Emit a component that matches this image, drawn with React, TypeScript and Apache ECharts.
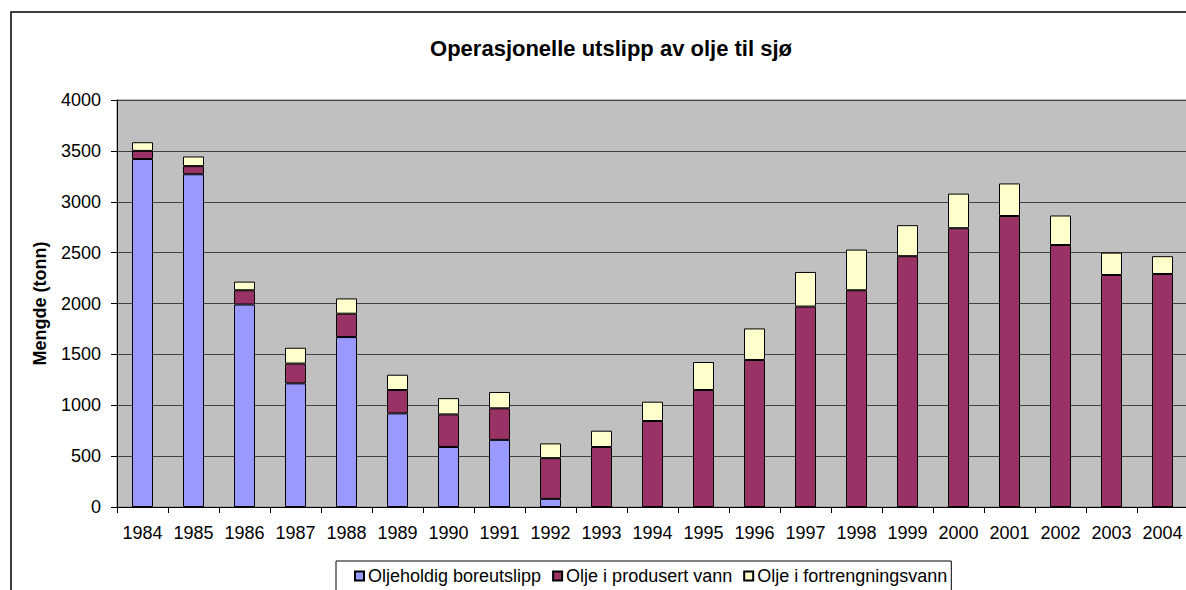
import React, { useEffect, useRef } from "react";
import * as echarts from "echarts";

const years = ["1984","1985","1986","1987","1988","1989","1990","1991","1992","1993","1994","1995","1996","1997","1998","1999","2000","2001","2002","2003","2004"];
const boreutslipp = [3420, 3270, 1990, 1215, 1670, 920, 590, 660, 80, 0, 0, 0, 0, 0, 0, 0, 0, 0, 0, 0, 0];
const produsertVann = [80, 80, 140, 195, 230, 230, 320, 310, 400, 590, 845, 1150, 1445, 1970, 2130, 2465, 2740, 2860, 2575, 2280, 2290];
const fortrengningsvann = [85, 95, 85, 155, 150, 150, 160, 160, 145, 160, 190, 275, 310, 340, 400, 305, 340, 320, 290, 220, 175];
const seriesNames = ["Oljeholdig boreutslipp", "Olje i produsert vann", "Olje i fortrengningsvann"];
const titleText = "Operasjonelle utslipp av olje til sjø";
const yAxisName = "Mengde (tonn)";

const FONT = "'Liberation Sans', Arial, sans-serif";

export default function App() {
  const ref = useRef<HTMLDivElement>(null);
  useEffect(() => {
    if (!ref.current) return;
    const chart = echarts.init(ref.current, undefined, { renderer: "svg" });
    const colors = ["#9999FF", "#993366", "#FFFFCC"];
    const datasets = [boreutslipp, produsertVann, fortrengningsvann];
    chart.setOption({
      animation: false,
      backgroundColor: "#ffffff",
      textStyle: { fontFamily: FONT },
      graphic: [
        {
          type: "rect",
          shape: { x: 11, y: 12, width: 1400, height: 800 },
          style: { fill: "none", stroke: "#000", lineWidth: 1.5 },
          silent: true,
          z: -1,
        },
      ],
      title: {
        text: titleText,
        left: 606,
        textAlign: "center",
        top: 32,
        textStyle: { fontFamily: FONT, fontSize: 22, fontWeight: "bold", color: "#000" },
      },
      legend: {
        left: 336,
        top: 561,
        padding: [6, 4, 6, 18],
        itemGap: 11,
        itemWidth: 9,
        itemHeight: 9,
        icon: "rect",
        backgroundColor: "#fff",
        borderColor: "#000",
        borderWidth: 1,
        borderRadius: 0,
        textStyle: { fontFamily: FONT, fontSize: 18, color: "#000", padding: [0, 0, 0, -1] },
        data: seriesNames,
      },
      grid: {
        left: 117,
        right: 12,
        top: 100,
        bottom: 83,
        show: true,
        backgroundColor: "#C0C0C0",
        borderColor: "#808080",
        borderWidth: 1,
      },
      xAxis: {
        type: "category",
        data: years,
        boundaryGap: true,
        axisLine: { lineStyle: { color: "#000", width: 1 } },
        axisTick: { show: true, length: 6, lineStyle: { color: "#000" } },
        axisLabel: { color: "#000", fontSize: 18, fontFamily: FONT, margin: 17, interval: 0 },
      },
      yAxis: {
        type: "value",
        min: 0,
        max: 4000,
        interval: 500,
        name: yAxisName,
        nameLocation: "middle",
        nameRotate: 90,
        nameGap: 68,
        nameTextStyle: { fontFamily: FONT, fontSize: 18, fontWeight: "bold", color: "#000" },
        axisLine: { show: true, lineStyle: { color: "#000", width: 1 } },
        axisTick: { show: true, length: 6, lineStyle: { color: "#000" } },
        axisLabel: {
          color: "#000",
          fontSize: 18,
          fontFamily: FONT,
          margin: 16,
          formatter: (v: number) => String(v),
        },
        splitLine: { show: true, lineStyle: { color: "#404040", width: 1 } },
      },
      series: seriesNames.map((name, i) => ({
        name,
        type: "bar",
        stack: "total",
        barWidth: 21,
        data: datasets[i],
        itemStyle: { color: colors[i], borderColor: "#000", borderWidth: 1 },
      })),
    });
    return () => chart.dispose();
  }, []);
  return (
    <div
      ref={ref}
      style={{ position: "fixed", left: 0, top: 0, width: 1200, height: 590 }}
    />
  );
}
